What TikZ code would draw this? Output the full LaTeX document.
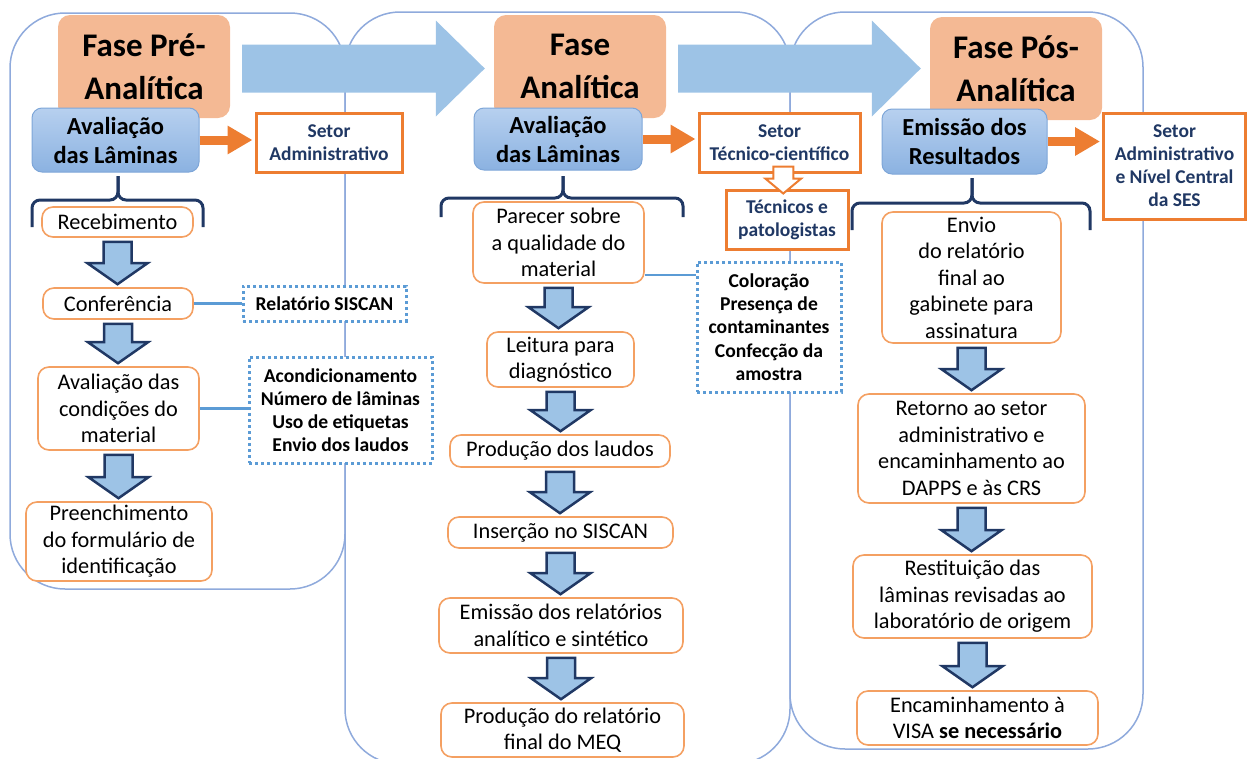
\documentclass[tikz,border=0pt]{standalone}
\usepackage{fontspec}
\setmainfont{Carlito}
\usetikzlibrary{arrows.meta,calc}
\definecolor{painelazul}{RGB}{143,170,220}
\definecolor{setaazul}{RGB}{157,195,230}
\definecolor{pessego}{RGB}{244,185,148}
\definecolor{avaltopo}{RGB}{183,208,239}
\definecolor{avalbase}{RGB}{139,178,225}
\definecolor{avalborda}{RGB}{126,166,216}
\definecolor{laranja}{RGB}{237,125,49}
\definecolor{laranjaclaro}{RGB}{244,160,98}
\definecolor{marinho}{RGB}{32,56,100}
\definecolor{notaazul}{RGB}{91,155,213}
\tikzset{
  painel/.style={draw=painelazul, line width=1.5pt, rounded corners=55pt},
  tam/.style 2 args={minimum width=#1pt, minimum height=#2pt},
  titulo/.style={fill=pessego, rounded corners=12pt, tam={172}{103}, align=center, inner sep=0pt, font=\fontsize{33}{43}\selectfont\bfseries},
  avaliacao/.style={draw=avalborda, line width=1pt, top color=avaltopo, bottom color=avalbase, rounded corners=10pt, align=center, inner sep=0pt, font=\fontsize{24.5}{29}\selectfont\bfseries},
  setor/.style={draw=laranja, line width=3pt, fill=white, align=center, inner sep=0pt, text=marinho, font=\fontsize{19.5}{23}\selectfont\bfseries},
  etapa/.style={draw=laranjaclaro, line width=1.6pt, fill=white, rounded corners=11pt, align=center, inner sep=0pt, font=\fontsize{22.3}{26.5}\selectfont},
  nota/.style={draw=notaazul, line width=3pt, dash pattern=on 3pt off 3pt, fill=white, align=center, inner sep=0pt, font=\fontsize{19.6}{23.2}\selectfont\bfseries},
  ligacao/.style={notaazul, line width=2.4pt},
  setalaranja/.style={-{Triangle[length=25pt, width=27pt]}, laranja, line width=9pt, shorten >=2pt},
  setabloco/.style={fill=setaazul, draw=marinho, line width=2.5pt},
  setagrande/.style={fill=setaazul},
  setavazada/.style={fill=white, draw=laranja, line width=2pt},
  chave/.style={marinho, line width=3pt, rounded corners=8pt},
}
% seta azul de bloco entre duas etapas
\newcommand{\setabaixo}[2]{%
  \coordinate (ta) at ($(#1.south)+(0,4)$);
  \coordinate (pa) at ($(#2.north)+(0,-3)$);
  \draw[setabloco] ($(ta)+(-14,0)$) -- ($(ta)+(14,0)$) -- ($(ta|-pa)+(14,-21)$) -- ($(ta|-pa)+(30,-21)$)
    -- (ta|-pa) -- ($(ta|-pa)+(-30,-21)$) -- ($(ta|-pa)+(-14,-21)$) -- cycle;
}
% seta larga entre as fases
\newcommand{\setagrande}[2]{%
  \coordinate (sg) at ($(#1.east)+(12,2)$);
  \coordinate (pg) at ($(#2.west)+(-9,0)$);
  \fill[setagrande] ($(sg)+(0,-24)$) -- ($(sg-|pg)+(-49,-24)$) -- ($(sg-|pg)+(-49,-48)$) -- (sg-|pg)
    -- ($(sg-|pg)+(-49,48)$) -- ($(sg-|pg)+(-49,24)$) -- ($(sg)+(0,24)$) -- cycle;
}
% seta vazada laranja
\newcommand{\setavazada}[2]{%
  \coordinate (mv) at ($(#1.south)!.5!(#2.north)$);
  \coordinate (tv) at ($(mv|-#1.south)+(0,-7)$);
  \coordinate (pv) at ($(mv|-#2.north)+(0,5)$);
  \draw[setavazada] ($(tv)+(-10,0)$) -- ($(tv)+(10,0)$) -- ($(tv|-pv)+(10,-15)$) -- ($(tv|-pv)+(18,-15)$)
    -- (tv|-pv) -- ($(tv|-pv)+(-18,-15)$) -- ($(tv|-pv)+(-10,-15)$) -- cycle;
}
% chave: esquerda, direita, centro, topo, linha, pontas
\newcommand{\chave}[6]{%
  \draw[chave] (#1,#6) |- (#3,#5) -- (#3,#4);
  \draw[chave] (#2,#6) |- (#3,#5) -- (#3,#4);
}
\begin{document}
\begin{tikzpicture}[x=1pt, y=-1pt]
  \useasboundingbox (0,0) rectangle (1248,758);

  % ---------------- paineis das fases ----------------
  \draw[painel] (10,13) rectangle (345,589);
  \draw[painel] (345,12) rectangle (790,764);
  \draw[painel] (790,12) rectangle (1143,749);

  \node[titulo] (tit1) at (144,66.5) {Fase Pré-\\Analítica};
  \node[titulo] (tit2) at (580,66.5) {Fase\\Analítica};
  \node[titulo] (tit3) at (1016,68.5) {Fase Pós-\\Analítica};
  \setagrande{tit1}{tit2}
  \setagrande{tit2}{tit3}

  % ---------------- fase pre-analitica ----------------
  \node[avaliacao, tam={167}{64}] (aval1) at (115.5,140) {Avaliação\\das Lâminas};
  \node[setor, tam={146}{59}] (setor1) at (329,142.5) {Setor\\Administrativo};
  \draw[setalaranja] (aval1.east) -- (aval1.east -| setor1.west);
  \chave{32}{203}{118}{176}{200}{227}
  \node[etapa, tam={151}{30}] (rec) at (117.5,222) {Recebimento};
  \node[etapa, tam={150}{31}] (conf) at (118,303.5) {Conferência};
  \node[etapa, tam={161}{83}] (cond) at (118.5,408.5) {Avaliação das\\condições do\\material};
  \node[etapa, tam={186}{79}] (preen) at (119,541.5) {Preenchimento\\do formulário de\\identificação};
  \node[nota, tam={163}{35}] (relat) at (324.5,303.5) {Relatório SISCAN};
  \node[nota, tam={183}{106}] (acond) at (340.5,410) {Acondicionamento\\Número de lâminas\\Uso de etiquetas\\Envio dos laudos};
  \setabaixo{rec}{conf}
  \setabaixo{conf}{cond}
  \setabaixo{cond}{preen}
  \draw[ligacao] (conf.east) -- (relat.west);
  \draw[ligacao] (cond.east) -- (cond.east -| acond.west);

  % ---------------- fase analitica ----------------
  \node[avaliacao, tam={168}{62}] (aval2) at (558,139) {Avaliação\\das Lâminas};
  \node[setor, tam={161}{59}] (setor2) at (779.5,142.5) {Setor\\Técnico-científico};
  \node[setor, tam={122}{59}] (tecn) at (787,219.5) {Técnicos e\\patologistas};
  \draw[setalaranja] (aval2.east) -- (aval2.east -| setor2.west);
  \setavazada{setor2}{tecn}
  \chave{441}{683}{563}{176}{198}{217}
  \node[etapa, tam={171}{81}] (parecer) at (558.5,242.5) {Parecer sobre\\a qualidade do\\material};
  \node[etapa, tam={147}{55}] (leit) at (560.5,359.5) {Leitura para\\diagnóstico};
  \node[etapa, tam={220}{32}] (prodl) at (560,451) {Produção dos laudos};
  \node[etapa, tam={225}{31}] (ins) at (560.5,532.5) {Inserção no SISCAN};
  \node[etapa, tam={244}{55}] (emis) at (561,625.5) {Emissão dos relatórios\\analítico e sintético};
  \node[etapa, tam={243}{54}] (prodr) at (562.5,730) {Produção do relatório\\final do MEQ};
  \node[nota, tam={144}{130}] (color) at (769,327) {Coloração\\Presença de\\contaminantes\\Confecção da\\amostra};
  \setabaixo{parecer}{leit}
  \setabaixo{leit}{prodl}
  \setabaixo{prodl}{ins}
  \setabaixo{ins}{emis}
  \setabaixo{emis}{prodr}
  \coordinate (pq) at ($(parecer.south east)+(0,-9)$);
  \draw[ligacao] (pq) -- (pq -| color.west);

  % ---------------- fase pos-analitica ----------------
  \node[avaliacao, tam={165}{65}] (aval3) at (964.5,141.5) {Emissão dos\\Resultados};
  \node[setor, tam={142}{106}] (setor3) at (1174.5,166) {Setor\\Administrativo\\e Nível Central\\da SES};
  \draw[setalaranja] (aval3.east) -- (aval3.east -| setor3.west);
  \chave{852}{1090}{972}{178}{203}{230}
  \node[etapa, tam={179}{131}] (envio) at (971.5,277.5) {Envio\\do relatório\\final ao\\gabinete para\\assinatura};
  \node[etapa, tam={227}{109}] (retorno) at (971.5,448.5) {Retorno ao setor\\administrativo e\\encaminhamento ao\\DAPPS e às CRS};
  \node[etapa, tam={239}{83}] (restit) at (972.5,596.5) {Restituição das\\lâminas revisadas ao\\laboratório de origem};
  \node[etapa, tam={241}{54}] (encam) at (977.5,718) {Encaminhamento à\\VISA \textbf{se necessário}};
  \setabaixo{envio}{retorno}
  \setabaixo{retorno}{restit}
  \setabaixo{restit}{encam}
\end{tikzpicture}
\end{document}
